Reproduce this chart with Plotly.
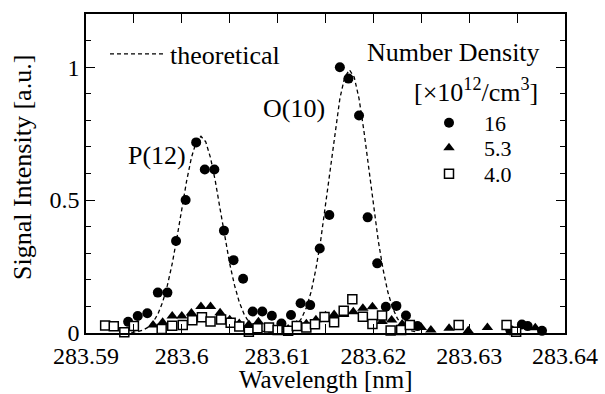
import plotly.graph_objects as go

# ---------------- data ----------------
# theoretical curve
theory_wl = [283.5940, 283.5945, 283.5950, 283.5955, 283.5960, 283.5965, 283.5970, 283.5975,
             283.5980, 283.5985, 283.5990, 283.5995, 283.6000, 283.6005, 283.6010, 283.6015,
             283.6020, 283.6025, 283.6030, 283.6035, 283.6040, 283.6045, 283.6050, 283.6055,
             283.6060, 283.6065, 283.6070, 283.6075, 283.6080, 283.6085, 283.6090, 283.6095,
             283.6100, 283.6105, 283.6110, 283.6115, 283.6120, 283.6125, 283.6130, 283.6135,
             283.6140, 283.6145, 283.6150, 283.6155, 283.6160, 283.6165, 283.6170, 283.6175,
             283.6180, 283.6185, 283.6190, 283.6195, 283.6200, 283.6205, 283.6210, 283.6215,
             283.6220, 283.6225, 283.6230, 283.6235, 283.6240, 283.6245]
theory_sig = [0.000, 0.001, 0.003, 0.006, 0.012, 0.022, 0.041, 0.071,
              0.116, 0.180, 0.261, 0.360, 0.466, 0.571, 0.659, 0.719,
              0.740, 0.719, 0.659, 0.571, 0.466, 0.360, 0.261, 0.180,
              0.116, 0.071, 0.041, 0.022, 0.012, 0.006, 0.003, 0.002,
              0.002, 0.004, 0.008, 0.015, 0.030, 0.055, 0.095, 0.155,
              0.241, 0.349, 0.481, 0.624, 0.763, 0.882, 0.962, 0.990,
              0.962, 0.882, 0.763, 0.624, 0.481, 0.349, 0.241, 0.155,
              0.095, 0.055, 0.030, 0.015, 0.008, 0.004]

# number density 16 x10^12 /cm^3 (filled circles)
wl_16 = [283.5944, 283.5954, 283.5964, 283.5975, 283.5985, 283.5994, 283.6004, 283.6015,
         283.6024, 283.6034, 283.6044, 283.6054, 283.6064, 283.6074, 283.6084, 283.6094,
         283.6104, 283.6114, 283.6124, 283.6134, 283.6144, 283.6154, 283.6165, 283.6174,
         283.6185, 283.6194, 283.6204, 283.6213, 283.6224, 283.6234, 283.6246, 283.6343,
         283.6355, 283.6361, 283.6376]
sig_16 = [0.042, 0.064, 0.074, 0.152, 0.152, 0.346, 0.500, 0.717,
          0.615, 0.615, 0.385, 0.274, 0.204, 0.081, 0.081, 0.065,
          0.036, 0.068, 0.112, 0.105, 0.318, 0.444, 1.000, 0.957,
          0.818, 0.435, 0.262, 0.099, 0.102, 0.066, 0.026, 0.010,
          0.032, 0.026, 0.008]

# number density 5.3 (filled triangles)
wl_53 = [283.5970, 283.5980, 283.5990, 283.6000, 283.6010, 283.6020, 283.6030, 283.6040,
         283.6050, 283.6060, 283.6070, 283.6080, 283.6091, 283.6101, 283.6111, 283.6120,
         283.6130, 283.6140, 283.6150, 283.6159, 283.6169, 283.6179, 283.6189, 283.6199,
         283.6209, 283.6219, 283.6230, 283.6239, 283.6250, 283.6260, 283.6279, 283.6299,
         283.6319, 283.6357, 283.6369]
sig_53 = [0.030, 0.040, 0.064, 0.064, 0.075, 0.100, 0.100, 0.076,
          0.050, 0.036, 0.032, 0.042, 0.014, 0.020, 0.015, 0.030,
          0.035, 0.050, 0.065, 0.070, 0.070, 0.080, 0.093, 0.099,
          0.043, 0.049, 0.034, 0.026, 0.021, 0.011, 0.018, 0.008,
          0.021, 0.025, 0.020]

# number density 4.0 (open squares)
wl_40 = [283.5920, 283.5929, 283.5940, 283.5950, 283.5979, 283.5990, 283.6001, 283.6011,
         283.6021, 283.6030, 283.6041, 283.6051, 283.6060, 283.6070, 283.6079, 283.6091,
         283.6100, 283.6111, 283.6120, 283.6130, 283.6139, 283.6149, 283.6159, 283.6169,
         283.6178, 283.6189, 283.6199, 283.6209, 283.6218, 283.6229, 283.6238, 283.6289,
         283.6339, 283.6349]
sig_40 = [0.028, 0.025, 0.003, 0.026, 0.015, 0.027, 0.030, 0.048,
          0.059, 0.043, 0.051, 0.039, 0.024, 0.005, 0.018, 0.021,
          0.011, 0.008, 0.026, 0.021, 0.033, 0.060, 0.040, 0.084,
          0.127, 0.061, 0.034, 0.066, 0.009, 0.011, 0.030, 0.030,
          0.030, 0.005]

x_tickvals = [283.59, 283.60, 283.61, 283.62, 283.63, 283.64]
x_ticktext = ["283.59", "283.6", "283.61", "283.62", "283.63", "283.64"]
y_tickvals = [0, 0.5, 1]
y_ticktext = ["0", "0.5", "1"]

FONT = "Liberation Serif"

# plot-area geometry in pixels (for placing legends / text)
L, R, T, B = 86, 565, 14, 333
def px_x(p):
    return (p - L) / (R - L)
def px_y(p):
    return (B - p) / (B - T)

fig = go.Figure()
fig.add_trace(go.Scatter(x=theory_wl, y=theory_sig, mode="lines", name="theoretical",
                         line=dict(color="black", width=1.3, dash="4px,3px"),
                         legend="legend2", showlegend=True))
fig.add_trace(go.Scatter(x=wl_16, y=sig_16, mode="markers", name="16", legend="legend",
                         showlegend=True,
                         marker=dict(symbol="circle", size=10, color="black",
                                     line=dict(width=0)), cliponaxis=False))
fig.add_trace(go.Scatter(x=wl_53, y=sig_53, mode="markers", name="5.3", legend="legend3",
                         showlegend=True,
                         marker=dict(symbol="triangle-up", size=10, color="black",
                                     line=dict(width=0)), cliponaxis=False))
fig.add_trace(go.Scatter(x=wl_40, y=sig_40, mode="markers", name="4.0", legend="legend4",
                         showlegend=True,
                         marker=dict(symbol="square", size=9, color="white",
                                     line=dict(width=1.5, color="black")), cliponaxis=False))

axis_common = dict(showline=True, linecolor="black", linewidth=1.5, mirror="allticks",
                   ticks="inside", ticklen=9, tickwidth=1.3, tickcolor="black",
                   showgrid=False, zeroline=False, automargin=False,
                   tickfont=dict(family=FONT, size=24, color="black"))

entry_legend = dict(xanchor="left", yanchor="middle", bgcolor="rgba(0,0,0,0)",
                    itemwidth=60, font=dict(family=FONT, size=22, color="black"))

fig.update_layout(
    width=605, height=394,
    showlegend=True,
    margin=dict(l=L, r=605 - R, t=T, b=394 - B),
    paper_bgcolor="white", plot_bgcolor="white",
    font=dict(family=FONT, color="black"),
    xaxis=dict(range=[283.59, 283.64], tickvals=x_tickvals, ticktext=x_ticktext,
               minor=dict(dtick=0.005, tick0=283.59, ticks="inside", ticklen=9,
                          tickwidth=1.3, tickcolor="black"),
               **axis_common),
    yaxis=dict(range=[0, 1.2], tickvals=y_tickvals, ticktext=y_ticktext,
               minor=dict(dtick=0.1, tick0=0, ticks="inside", ticklen=5,
                          tickwidth=1.3, tickcolor="black"),
               **axis_common),
    legend=dict(x=px_x(414), y=px_y(123), **entry_legend),
    legend3=dict(x=px_x(414), y=px_y(148), **entry_legend),
    legend4=dict(x=px_x(414), y=px_y(174), **entry_legend),
    legend2=dict(x=px_x(105), y=px_y(54), xanchor="left", yanchor="middle",
                 bgcolor="rgba(0,0,0,0)", itemwidth=55,
                 font=dict(family=FONT, size=26, color="black")),
)

# axis titles
fig.add_annotation(x=px_x(326), y=px_y(394), xref="paper", yref="paper",
                   xanchor="center", yanchor="bottom", text="Wavelength [nm]",
                   showarrow=False, borderpad=0, font=dict(family=FONT, size=25))
fig.add_annotation(x=px_x(22), y=px_y(168), xref="paper", yref="paper",
                   xanchor="center", yanchor="middle", textangle=-90,
                   text="Signal Intensity [a.u.]",
                   showarrow=False, font=dict(family=FONT, size=26))

# peak labels
fig.add_annotation(x=283.59745, y=0.669, xref="x", yref="y", text="P(12)", showarrow=False,
                   font=dict(family=FONT, size=26))
fig.add_annotation(x=283.61167, y=0.846, xref="x", yref="y", text="O(10)", showarrow=False,
                   font=dict(family=FONT, size=26))

# legend heading
fig.add_annotation(x=px_x(542), y=px_y(53), xref="paper", yref="paper",
                   xanchor="right", yanchor="middle", text="Number Density",
                   showarrow=False, font=dict(family=FONT, size=26))
fig.add_annotation(x=px_x(540), y=px_y(90), xref="paper", yref="paper",
                   xanchor="right", yanchor="middle",
                   text="[×10<sup>12</sup>/cm<sup>3</sup>]",
                   showarrow=False, font=dict(family=FONT, size=26))

fig.write_html("out.html")
